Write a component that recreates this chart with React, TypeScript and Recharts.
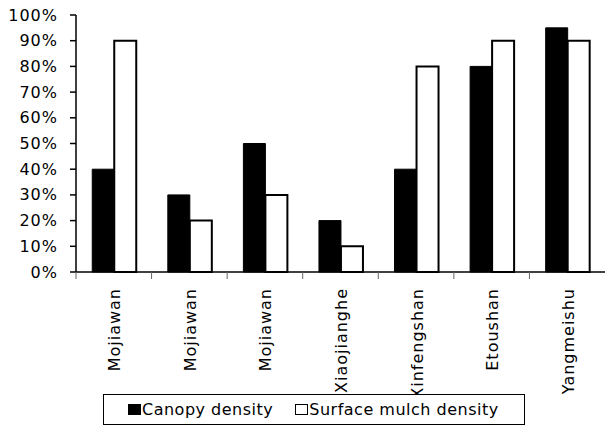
import React from 'react';
import { BarChart, Bar, XAxis, YAxis, Legend } from 'recharts';

const categories = ['Mojiawan', 'Mojiawan', 'Mojiawan', 'Xiaojianghe', 'Xinfengshan', 'Etoushan', 'Yangmeishu'];
const canopyDensity = [40, 30, 50, 20, 40, 80, 95];
const mulchDensity = [90, 20, 30, 10, 80, 90, 90];
const yTicks = [0, 10, 20, 30, 40, 50, 60, 70, 80, 90, 100];
const seriesNames = ['Canopy density', 'Surface mulch density'];

const W = 605;
const H = 426;
const Y_AXIS_W = 76;
const MARGIN = { top: 15, right: 0, left: 0, bottom: 1 };
const BAND = (W - Y_AXIS_W - MARGIN.left - MARGIN.right) / categories.length;
const FONT = '"DejaVu Sans", Verdana, sans-serif';

const data = categories.map((name, i) => ({
  name,
  canopy: canopyDensity[i],
  mulch: mulchDensity[i],
}));

const XTick = (props: any) => {
  const { x, y, payload } = props;
  const edge = x - BAND / 2;
  return (
    <g>
      <line x1={edge} x2={edge} y1={y} y2={y + 7} stroke="#666" strokeWidth={1} />
      <text
        transform={`translate(${x + 1},${y + 16}) rotate(-90)`}
        textAnchor="end"
        dominantBaseline="central"
        fill="#000"
        fontSize={16}
        fontFamily={FONT}
        style={{ letterSpacing: '1px' }}
      >
        {payload.value}
      </text>
    </g>
  );
};

const YTick = (props: any) => {
  const { x, y, payload } = props;
  return (
    <text
      x={x}
      y={y}
      textAnchor="end"
      dominantBaseline="central"
      fill="#000"
      fontSize={16}
      fontFamily={FONT}
      style={{ letterSpacing: '1px' }}
    >
      {`${payload.value}%`}
    </text>
  );
};

const LegendBox = (props: any) => {
  const payload = props.payload || [];
  return (
    <div
      style={{
        border: '1px solid #000',
        background: '#fff',
        height: 31,
        boxSizing: 'border-box',
        display: 'flex',
        alignItems: 'center',
        paddingLeft: 24,
        fontFamily: FONT,
        fontSize: 16,
        letterSpacing: '0.5px',
        color: '#000',
        whiteSpace: 'nowrap',
      }}
    >
      {payload.map((entry: any, i: number) => {
        const fill = entry.payload?.fill ?? entry.color;
        return (
          <div key={i} style={{ display: 'flex', alignItems: 'center', marginRight: 22 }}>
            <span
              style={{
                display: 'inline-block',
                width: 13,
                height: 11,
                boxSizing: 'border-box',
                background: fill,
                border: '1.5px solid #000',
                marginRight: 1,
              }}
            />
            <span>{entry.value}</span>
          </div>
        );
      })}
    </div>
  );
};

export default function App() {
  return (
    <div style={{ position: 'absolute', left: 0, top: 0, width: W, height: H, background: '#fff' }}>
      <BarChart
        width={W}
        height={H}
        data={data}
        margin={MARGIN}
        barCategoryGap="21.5%"
        barGap={0}
      >
        <XAxis
          dataKey="name"
          height={122}
          axisLine={{ stroke: '#000', strokeWidth: 1.5 }}
          tickLine={false}
          tickSize={0}
          tickMargin={0}
          interval={0}
          tick={<XTick />}
        />
        <YAxis
          width={Y_AXIS_W}
          domain={[0, 100]}
          ticks={yTicks}
          interval={0}
          axisLine={{ stroke: '#000', strokeWidth: 1.5 }}
          tickLine={{ stroke: '#000', strokeWidth: 1.5 }}
          tickSize={6}
          tickMargin={12}
          tick={<YTick />}
        />
        <Legend
          verticalAlign="bottom"
          align="left"
          wrapperStyle={{ left: 103, bottom: 1, width: 422 }}
          content={<LegendBox />}
        />
        <Bar dataKey="canopy" name={seriesNames[0]} fill="#000" stroke="#000" strokeWidth={1} isAnimationActive={false} />
        <Bar dataKey="mulch" name={seriesNames[1]} fill="#fff" stroke="#000" strokeWidth={2} isAnimationActive={false} />
      </BarChart>
    </div>
  );
}
